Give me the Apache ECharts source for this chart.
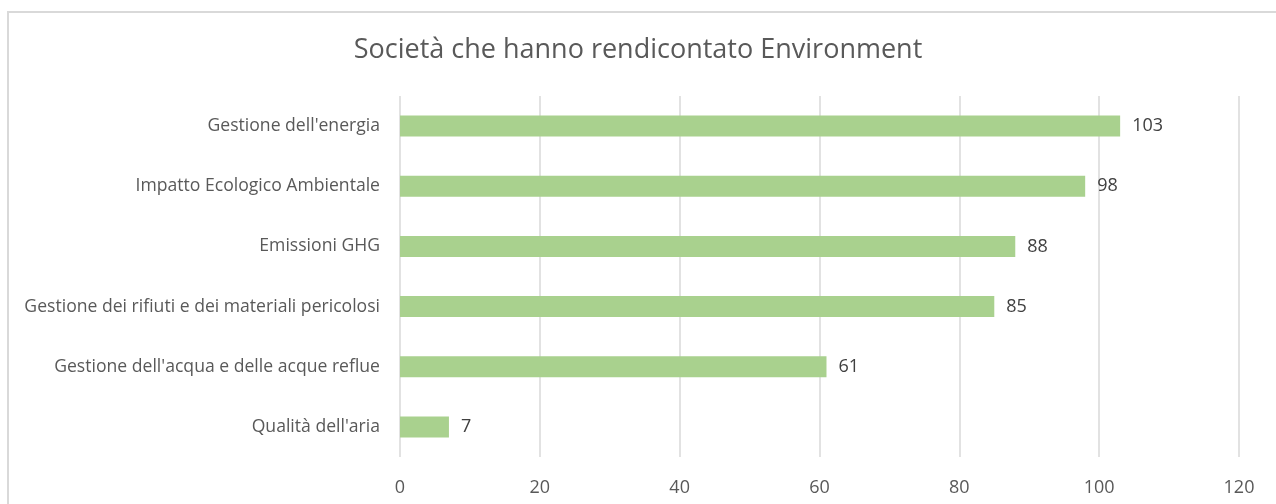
<!DOCTYPE html>
<html>
<head>
<meta charset="utf-8">
<script src="https://cdn.jsdelivr.net/npm/echarts@6/dist/echarts.min.js"></script>
<style>
html,body{margin:0;padding:0;background:#fff;}
#chart{width:1276px;height:504px;}
</style>
</head>
<body>
<div id="chart"></div>
<script>
const titleText = "Società che hanno rendicontato Environment";
const categories = [
  "Gestione dell'energia",
  "Impatto Ecologico Ambientale",
  "Emissioni GHG",
  "Gestione dei rifiuti e dei materiali pericolosi",
  "Gestione dell'acqua e delle acque reflue",
  "Qualità dell'aria"
];
const values = [103, 98, 88, 85, 61, 7];
const xMin = 0, xMax = 120, xInterval = 20;

const chart = echarts.init(document.getElementById('chart'), null, {renderer: 'canvas'});
chart.setOption({
  animation: false,
  backgroundColor: '#fff',
  graphic: [{
    type: 'rect',
    shape: {x: 8, y: 12, width: 1400, height: 700},
    style: {fill: 'none', stroke: '#d9d9d9', lineWidth: 2},
    silent: true, z: -10
  }],
  title: {
    text: titleText,
    left: 'center',
    top: 32,
    textStyle: {fontFamily: 'Open Sans', fontWeight: 'normal', fontSize: 27, color: '#595959'}
  },
  grid: {left: 400, right: 37, top: 96, bottom: 47, containLabel: false},
  xAxis: {
    type: 'value', min: xMin, max: xMax, interval: xInterval,
    axisLine: {show: false}, axisTick: {show: false},
    splitLine: {show: true, lineStyle: {color: '#d9d9d9', width: 1.5}},
    axisLabel: {margin: 22, color: '#595959', fontFamily: 'Open Sans', fontSize: 18}
  },
  yAxis: {
    type: 'category', data: categories, inverse: true,
    axisLine: {show: false}, axisTick: {show: false},
    axisLabel: {margin: 20, color: '#595959', fontFamily: 'Open Sans', fontSize: 17.6}
  },
  series: [{
    type: 'bar', data: values, barWidth: 21,
    itemStyle: {color: '#a9d18e'},
    label: {show: true, position: 'right', distance: 12, color: '#404040', fontFamily: 'Open Sans', fontSize: 18}
  }]
});
</script>
</body>
</html>
